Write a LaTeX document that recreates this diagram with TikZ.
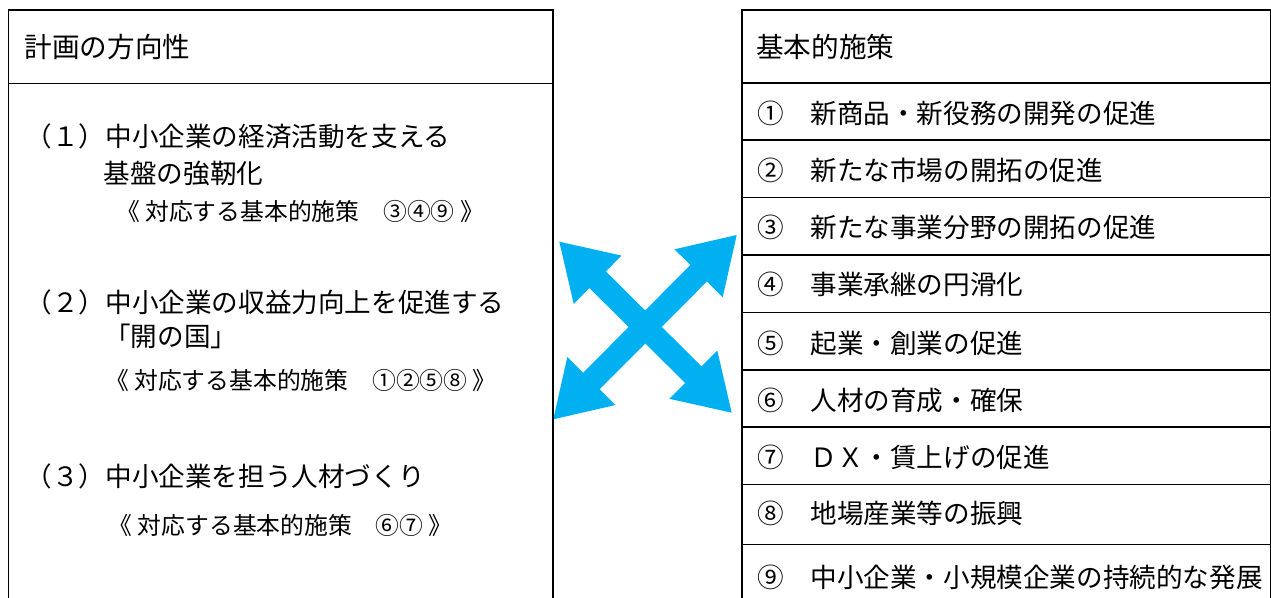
\documentclass[tikz,border=0pt]{standalone}
\usepackage{fontspec}
\setmainfont{Noto Sans CJK JP}
\usetikzlibrary{calc}
\definecolor{arrowblue}{RGB}{0,176,240}
\newcommand\dblarr[2]{%
  \coordinate (#1h) at ($(#1)!54pt!(#2)$);
  \coordinate (#2h) at ($(#2)!54pt!(#1)$);
  \fill[arrowblue] (#1) -- ($(#1h)!34pt!90:(#2)$) -- ($(#1h)!11.7pt!90:(#2)$)
    -- ($(#2h)!11.7pt!-90:(#1)$) -- ($(#2h)!34pt!-90:(#1)$) -- (#2)
    -- ($(#2h)!34pt!90:(#1)$) -- ($(#2h)!11.7pt!90:(#1)$)
    -- ($(#1h)!11.7pt!-90:(#2)$) -- ($(#1h)!34pt!-90:(#2)$) -- cycle;}
\begin{document}
\begin{tikzpicture}[x=1pt,y=-1pt,
  frame/.style={line width=1.6pt, black},
  headtext/.style={anchor=west, inner sep=0pt, font=\fontsize{27.6}{31}\selectfont},
  bigtext/.style={anchor=west, inner sep=0pt, font=\fontsize{26.6}{30}\selectfont},
  smalltext/.style={anchor=west, inner sep=0pt, font=\fontsize{23.8}{28}\selectfont}]
\useasboundingbox (0,0) rectangle (1271,597);
% arrows
\coordinate (tl) at (559.3,241.7);
\coordinate (br) at (731.7,412.7);
\coordinate (bl) at (553.3,419.3);
\coordinate (tr) at (736.7,235);
\dblarr{tl}{br}
\dblarr{bl}{tr}
% left frame
\draw[frame] (8.3,610) -- (8.3,10) -- (552.7,10) -- (552.7,610);
\draw[frame] (8.3,83.3) -- (552.7,83.3);
% right frame
\draw[frame] (742,610) -- (742,10) -- (1270.3,10) -- (1270.3,610);
\foreach \yy in {83,140,197.3,255,312.3,370,427,484.3,544.3}
  \draw[frame] (742,\yy) -- (1270.3,\yy);
% left texts
\node[headtext] (lh) at (24.5,46.7) {計画の方向性};
\node[bigtext] (p1) at (25.5,136.7) {（１）中小企業の経済活動を支える};
\node[bigtext] (p1b) at (103.5,173) {基盤の強靭化};
\node[smalltext] (p1c) at (116,211.7) {《 対応する基本的施策　③④⑨ 》};
\node[bigtext] (p2) at (25.5,302) {（２）中小企業の収益力向上を促進する};
\node[bigtext] (p2b) at (104,336.7) {「開の国」};
\node[smalltext] (p2c) at (105,380) {《 対応する基本的施策　①②⑤⑧ 》};
\node[bigtext] (p3) at (25.5,476.7) {（３）中小企業を担う人材づくり};
\node[smalltext] (p3c) at (108.5,525) {《 対応する基本的施策　⑥⑦ 》};
% right texts
\node[headtext] (rh) at (756,46.7) {基本的施策};
\node[bigtext] (r1) at (757,113.3) {①　新商品・新役務の開発の促進};
\node[bigtext] (r2) at (757,170) {②　新たな市場の開拓の促進};
\node[bigtext] (r3) at (757,227) {③　新たな事業分野の開拓の促進};
\node[bigtext] (r4) at (757,284) {④　事業承継の円滑化};
\node[bigtext] (r5) at (757,343) {⑤　起業・創業の促進};
\node[bigtext] (r6) at (757,400) {⑥　人材の育成・確保};
\node[bigtext] (r7) at (757,457) {⑦　ＤＸ・賃上げの促進};
\node[bigtext] (r8) at (757,513) {⑧　地場産業等の振興};
\node[bigtext] (r9) at (757,577) {⑨　中小企業・小規模企業の持続的な発展};
\end{tikzpicture}
\end{document}
